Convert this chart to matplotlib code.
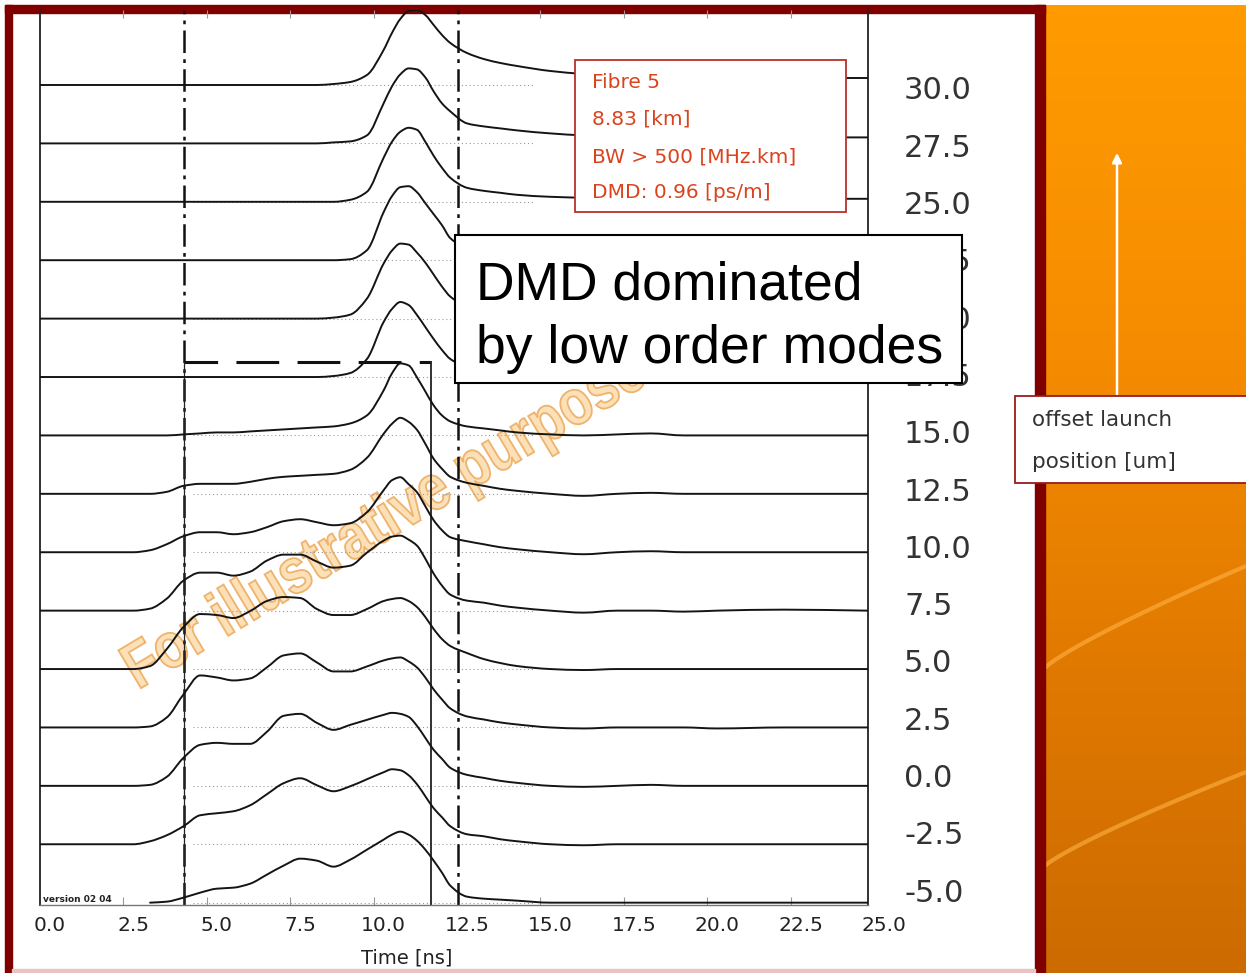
import numpy as np
import matplotlib
matplotlib.use("Agg")
import matplotlib.pyplot as plt
from matplotlib.patches import Rectangle, FancyArrowPatch, PathPatch
from matplotlib.path import Path
from matplotlib.textpath import TextPath
from matplotlib.font_manager import FontProperties
from matplotlib.transforms import Affine2D
from matplotlib.colors import LinearSegmentedColormap
import matplotlib.patheffects as pe

W, H = 1246, 973

# ---------------- data ----------------
offsets = [30.0, 27.5, 25.0, 22.5, 20.0, 17.5, 15.0, 12.5, 10.0, 7.5, 5.0, 2.5, 0.0, -2.5, -5.0]
offset_labels = ["30.0", "27.5", "25.0", "22.5", "20.0", "17.5", "15.0", "12.5",
                 "10.0", "7.5", "5.0", "2.5", "0.0", "-2.5", "-5.0"]
time_ticks = [0.0, 2.5, 5.0, 7.5, 10.0, 12.5, 15.0, 17.5, 20.0, 22.5, 25.0]
time_tick_labels = ["0.0", "2.5", "5.0", "7.5", "10.0", "12.5", "15.0", "17.5",
                    "20.0", "22.5", "25.0"]
minor_marks = [2.2, 4.7, 7.2, 9.7, 14.7, 17.2, 19.7, 22.2]

time_ns = [-0.3, 2.5, 3.0, 3.5, 4.0, 4.5, 5.0, 5.5, 6.0, 6.5, 7.0, 7.5, 8.0, 8.5,
           9.0, 9.5, 10.0, 10.25, 10.5, 10.75, 11.0, 11.25, 11.5, 11.75, 12.0,
           12.5, 13.0, 13.5, 14.0, 15.0, 16.0, 17.0, 18.0, 19.0, 20.0, 22.0, 24.5]

# pulse intensity (a.u.) for each launch offset
trace_30 = [0, 0, 0, 0, 0, 0, 0, 0, 0, 0, 0, 0, 0, 1, 3, 10, 35, 52, 66, 74, 75, 70, 60, 50, 42,
            32, 26, 22, 19, 14, 11, 9, 8, 7, 7, 7, 7]
trace_27_5 = [0, 0, 0, 0, 0, 0, 0, 0, 0, 0, 0, 0, 0, 1, 2, 8, 40, 57, 69, 75, 74, 66, 52, 40, 32,
              20, 17, 15, 13, 10, 8, 7, 6, 6, 6, 6, 6]
trace_25 = [0, 0, 0, 0, 0, 0, 0, 0, 0, 0, 0, 0, 0, 0, 2, 10, 44, 60, 70, 74, 72, 60, 46, 34, 24,
            14, 11, 9, 7, 5, 4, 3, 3, 3, 3, 3, 3]
trace_22_5 = [0, 0, 0, 0, 0, 0, 0, 0, 0, 0, 0, 0, 0, 0, 1, 10, 48, 64, 73, 74, 68, 57, 46, 35, 22,
              12, 8, 6, 5, 4, 3, 3, 3, 3, 3, 3, 3]
trace_20 = [0, 0, 0, 0, 0, 0, 0, 0, 0, 0, 0, 0, 0, 1, 4, 20, 55, 68, 75, 74, 66, 56, 44, 32, 22,
            12, 7, 5, 4, 3, 2, 2, 2, 2, 2, 2, 2]
trace_17_5 = [0, 0, 0, 0, 0, 0, 0, 0, 0, 0, 0, 0, 0, 1, 4, 18, 55, 68, 75, 72, 62, 50, 38, 27, 18,
              10, 6, 5, 4, 3, 2, 2, 2, 2, 2, 2, 2]
trace_15 = [0, 0, 0, 0, 1, 2, 3, 3, 4, 5, 6, 7, 8, 9, 12, 20, 45, 62, 72, 70, 58, 44, 30, 20, 14,
            9, 7, 5, 3, 1, 0, 1, 2, 0, 0, 0, 0]
trace_12_5 = [0, 0, 0, 2, 8, 10, 10, 10, 12, 15, 17, 18, 19, 20, 24, 36, 60, 70, 76, 72, 64, 50, 35,
              25, 17, 11, 8, 5, 3, 0, -2, 0, 1, 0, 0, 0, 0]
trace_10 = [0, 0, 2, 8, 16, 20, 20, 18, 20, 25, 31, 33, 30, 27, 29, 40, 62, 72, 75, 68, 60, 46, 32,
            22, 15, 11, 8, 5, 3, 0, -2, 0, 1, 0, 0, 0, 0]
trace_7_5 = [0, 0, 2, 12, 30, 38, 38, 35, 39, 50, 56, 56, 49, 43, 45, 58, 70, 74, 75, 71, 65, 52, 37,
             25, 16, 10, 8, 5, 3, 0, -2, 0, 0, -1, 0, 1, 0]
trace_5 = [0, 0, 3, 20, 42, 55, 54, 51, 58, 68, 72, 71, 60, 54, 54, 60, 68, 70, 71, 68, 62, 52, 40,
           30, 23, 16, 10, 6, 3, 0, -1, 0, 0, 0, 0, 0, 0]
trace_2_5 = [0, 0, 1, 10, 33, 52, 50, 47, 49, 60, 72, 74, 65, 56, 56, 61, 67, 69, 70, 66, 60, 50, 38,
             28, 19, 11, 8, 5, 3, 0, -1, 0, 0, 0, -1, 0, 0]
trace_0 = [0, 0, 1, 9, 28, 41, 43, 42, 42, 54, 70, 72, 63, 56, 61, 66, 71, 73, 72, 69, 60, 48, 36,
           27, 18, 11, 8, 5, 3, 0, -1, 0, 1, 0, 0, 0, 0]
trace_m2_5 = [0, 0, 3, 9, 18, 29, 31, 33, 39, 50, 61, 66, 59, 53, 58, 65, 72, 75, 74, 69, 60, 48, 36,
              27, 18, 10, 8, 5, 3, 0, -1, 0, 0, 0, 0, 0, 0]
trace_m5 = [np.nan, np.nan, 0, 1, 5, 10, 14, 15, 19, 28, 37, 44, 42, 36, 43, 53, 63, 68, 71, 68, 62,
            53, 42, 30, 17, 6, 4, 3, 2, 0, 0, 0, 0, 0, 0, 0, 0]

traces = [trace_30, trace_27_5, trace_25, trace_22_5, trace_20, trace_17_5, trace_15,
          trace_12_5, trace_10, trace_7_5, trace_5, trace_2_5, trace_0, trace_m2_5, trace_m5]

window_left_ns = 4.02      # dash-dot markers
window_right_ns = 12.22
box_right_ns = 11.42       # dashed window box
box_top_um = 18.14


# ---------------- helpers ----------------
def fx(x):
    return x / W


def fy(y):
    return 1 - y / H


def smooth_path(x, y):
    """Monotone cubic (PCHIP-style) Bezier path passing through the data points."""
    ok = ~np.isnan(y)
    x, y = np.asarray(x, float)[ok], np.asarray(y, float)[ok]
    h = np.diff(x)
    d = np.diff(y) / h
    n = len(x)
    m = np.zeros(n)
    m[0], m[-1] = d[0], d[-1]
    for k in range(1, n - 1):
        if d[k - 1] * d[k] <= 0:
            m[k] = 0.0
        else:
            w1 = 2 * h[k] + h[k - 1]
            w2 = h[k] + 2 * h[k - 1]
            m[k] = (w1 + w2) / (w1 / d[k - 1] + w2 / d[k])
    verts = [(x[0], y[0])]
    codes = [Path.MOVETO]
    for k in range(n - 1):
        verts += [(x[k] + h[k] / 3, y[k] + m[k] * h[k] / 3),
                  (x[k + 1] - h[k] / 3, y[k + 1] - m[k + 1] * h[k] / 3),
                  (x[k + 1], y[k + 1])]
        codes += [Path.CURVE4] * 3
    return Path(verts, codes)


fig = plt.figure(figsize=(W / 100, H / 100), dpi=100)
fig.patch.set_facecolor("white")

# background (pixel coordinate) axes
bg = fig.add_axes([0, 0, 1, 1], zorder=0)
grad = np.linspace(0, 1, 256)[:, None]
cmap = LinearSegmentedColormap.from_list("o", ["#FF9B00", "#F68D00", "#E27A00", "#CC6B00"])
bg.imshow(grad, cmap=cmap, extent=(1045, W, H, 5), aspect="auto", zorder=0)
xs = np.linspace(1045, W, 60)
for y0, y1 in [(668, 566), (866, 772)]:
    s = (xs - 1045) / (W - 1045)
    bg.plot(xs, y0 + (y1 - y0) * s ** 0.85, color="#FFB347", lw=3, alpha=0.6,
            solid_capstyle="butt", zorder=1)
bg.add_patch(Rectangle((5, 5), 1040, 8, color="#800000", zorder=2))
bg.add_patch(Rectangle((5, 5), 7, H - 5, color="#800000", zorder=2))
bg.add_patch(Rectangle((1035, 5), 10, H - 5, color="#800000", zorder=2))
bg.add_patch(Rectangle((12, 969), 1023, 3, color="#E8C4C4", zorder=2))
bg.set_xlim(0, W)
bg.set_ylim(H, 0)
bg.axis("off")

# main plot axes
ax = fig.add_axes([fx(40), fy(905), fx(868) - fx(40), fy(10) - fy(905)], zorder=1)
ax.set_facecolor("none")
ax.set_xlim(-0.30, 24.52)
ax.set_ylim(-5.10, 33.21)
scale = 1 / 23.36  # intensity units -> offset units

for o, h in zip(offsets, traces):
    yv = o + np.array(h, dtype=float) * scale
    ax.add_patch(PathPatch(smooth_path(time_ns, yv), fill=False, edgecolor="#141414",
                           lw=1.4, zorder=3, joinstyle="round", capstyle="round"))
ax.hlines(offsets, 4.3, 14.5, colors="#9a9a9a", linestyles=(0, (1, 2.5)), lw=0.8, zorder=2)

for t in (window_left_ns, window_right_ns):
    ax.axvline(t, color="#111111", lw=1.8, linestyle=(0, (9, 2.5, 1.5, 2.5)), zorder=2.5)
ax.plot([window_left_ns, box_right_ns], [box_top_um, box_top_um], color="#111111", lw=2.2,
        linestyle=(3, (14, 6)), zorder=2.5)
ax.plot([box_right_ns, box_right_ns], [box_top_um, -5.10], color="#222222", lw=1.3, zorder=2.5)
ax.plot([window_left_ns, window_left_ns], [box_top_um, -5.10], color="#222222", lw=0.9, zorder=2.5)

for side in ("left", "right"):
    ax.spines[side].set_color("#222222")
    ax.spines[side].set_linewidth(1.3)
ax.spines["bottom"].set_color("#777777")
ax.spines["bottom"].set_linewidth(1.0)
ax.spines["top"].set_visible(False)
ax.set_xticks(minor_marks)
ax.tick_params(axis="x", direction="in", top=True, bottom=True, length=6, width=0.8,
               color="#999999", labelbottom=False)
ax.set_yticks([])

for t, lab in zip(time_ticks, time_tick_labels):
    ax.text(t, -0.0225, lab, transform=ax.get_xaxis_transform(), ha="center", va="center",
            fontsize=14.5, color="#222222")

# right-hand offset labels
ax2 = ax.twinx()
ax2.set_ylim(-5.65, 33.40)
ax2.set_yticks(offsets)
ax2.set_yticklabels(offset_labels)
ax2.tick_params(axis="y", length=0, pad=26, labelsize=22, labelcolor="#333333")
for sp in ax2.spines.values():
    sp.set_visible(False)

# watermark (beneath the traces): slightly condensed bold text, rotated
wm_path = TextPath((0, 0), "For illustrative purposes", size=1,
                   prop=FontProperties(family="Liberation Sans", weight="bold"))
wm_tf = (Affine2D().scale(64 * 0.84, -64).rotate_deg(-31).translate(138, 690)
         + bg.transData)
ax.add_patch(PathPatch(wm_path, transform=wm_tf, facecolor="#FBE0B8", edgecolor="#EEB36C",
                       lw=1.3, zorder=1, clip_on=False))

bg.text(407, 958, "Time [ns]", ha="center", va="center", fontsize=14, color="#222222", zorder=3)
bg.text(43, 899, "version 02 04", ha="left", va="center", fontsize=6.5, weight="bold",
        color="#222222", zorder=3)

# overlay axes for annotation boxes
ov = fig.add_axes([0, 0, 1, 1], zorder=5)
ov.set_xlim(0, W)
ov.set_ylim(H, 0)
ov.axis("off")

ov.add_patch(Rectangle((575, 60), 271, 152, fc="white", ec="#B8302A", lw=1.3))
for y, s in zip([83, 119, 157, 193],
                ["Fibre 5", "8.83 [km]", "BW > 500 [MHz.km]", "DMD: 0.96 [ps/m]"]):
    ov.text(592, y, s, ha="left", va="center", fontsize=14.5, color="#D9441E")

ov.add_patch(Rectangle((455, 235), 507, 148, fc="white", ec="black", lw=1.5))
ov.text(476, 300, "DMD dominated", ha="left", va="baseline", fontsize=38.5,
        family="Liberation Sans", color="black")
ov.text(476, 363, "by low order modes", ha="left", va="baseline", fontsize=38.5,
        family="Liberation Sans", color="black")

ov.add_patch(FancyArrowPatch((1117, 397), (1117, 150), arrowstyle="-|>", mutation_scale=14,
                             color="white", lw=1.8))
ov.add_patch(Rectangle((1015, 396), 240, 87, fc="white", ec="#9A1B1B", lw=1.3))
ov.text(1032, 420, "offset launch", ha="left", va="center", fontsize=15.5, color="#333333")
ov.text(1032, 462, "position [um]", ha="left", va="center", fontsize=15.5, color="#333333")

fig.savefig("out.png", dpi=100)
